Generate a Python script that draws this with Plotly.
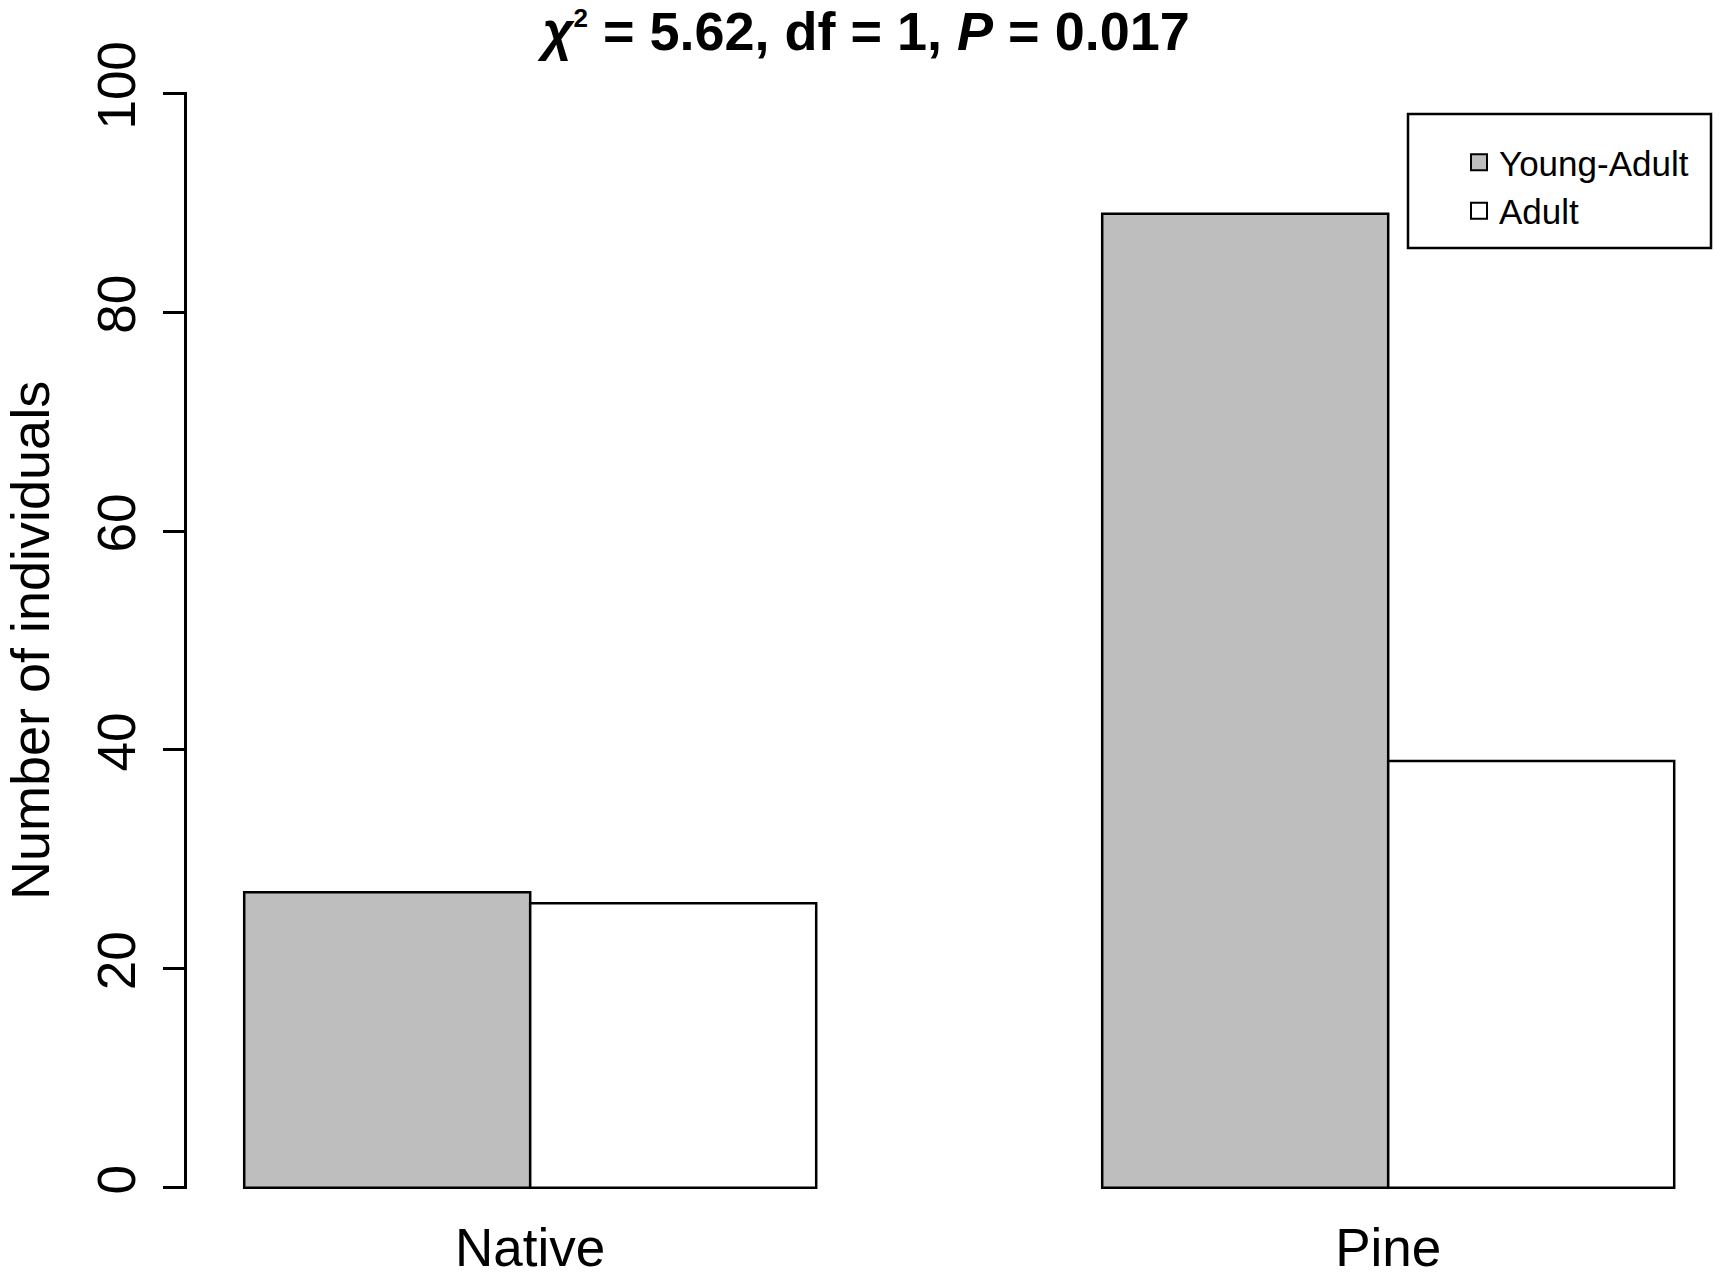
import plotly.graph_objects as go

categories = ["Native", "Pine"]
series_names = ["Young-Adult", "Adult"]
young_adult = [27, 89]
adult = [26, 39]
series_colors = ["#bebebe", "#ffffff"]
y_ticks = [0, 20, 40, 60, 80, 100]

FONT = "Liberation Sans, Arial, sans-serif"
W, H = 1720, 1277
L, R, T, B = 187, 0, 92, 88
PW, PH = W - L - R, H - T - B


def px_x(p):
    return (p - L) / PW


def px_y(p):
    return (H - B - p) / PH


fig = go.Figure()
for name, vals, col in zip(series_names, [young_adult, adult], series_colors):
    fig.add_trace(go.Bar(
        x=categories, y=vals, name=name, showlegend=False,
        marker=dict(color=col, line=dict(color="black", width=2.5)),
    ))
    # legend proxy (bigger square symbol)
    fig.add_trace(go.Scatter(
        x=[None], y=[None], mode="markers", name=name,
        marker=dict(symbol="square", size=16, color=col,
                    line=dict(color="black", width=2)),
    ))

# legend frame
fig.add_shape(type="rect", xref="paper", yref="paper",
              x0=px_x(1408), x1=px_x(1711), y0=px_y(248), y1=px_y(114),
              line=dict(color="black", width=2.5), fillcolor="white", layer="above")

fig.update_layout(
    width=W, height=H,
    paper_bgcolor="white", plot_bgcolor="white",
    margin=dict(l=L, r=R, t=T, b=B, pad=0, autoexpand=False),
    barmode="group", bargap=1/3, bargroupgap=0,
    font=dict(family=FONT, color="black"),
    title=dict(
        text="<b><i>χ</i><sup><span style='font-size:26px'>2</span></sup> = 5.62, df = 1, <i>P</i> = 0.017</b>",
        x=866/W, xref="container", xanchor="center",
        y=1 - 31/H, yref="container", yanchor="middle",
        font=dict(size=54, family=FONT, color="black"),
    ),
    legend=dict(
        x=px_x(1459), xref="paper", xanchor="left",
        y=px_y(133), yref="paper", yanchor="top",
        borderwidth=0, bgcolor="rgba(0,0,0,0)",
        font=dict(size=35, family=FONT),
        itemsizing="trace", tracegroupgap=0,
    ),
)
fig.update_xaxes(
    range=[-0.4, (W - L) / 286 / 3 - 0.4],
    showline=False, ticks="", showgrid=False, zeroline=False,
    tickfont=dict(size=53, family=FONT),
    ticklabelstandoff=23,
)
fig.update_yaxes(
    range=[-0.12, 100.12],
    tickvals=y_ticks, ticktext=[str(v) for v in y_ticks],
    tickangle=-90,
    showline=True, linecolor="black", linewidth=2.5,
    ticks="outside", ticklen=21, tickwidth=2.5, tickcolor="black",
    showgrid=False, zeroline=False,
    tickfont=dict(size=53, family=FONT),
    ticklabelstandoff=7,
    title=dict(text="Number of individuals", font=dict(size=54, family=FONT), standoff=23),
)

fig.write_html("out.html", config={"displayModeBar": False},
               post_script="document.body.style.margin='0';")
